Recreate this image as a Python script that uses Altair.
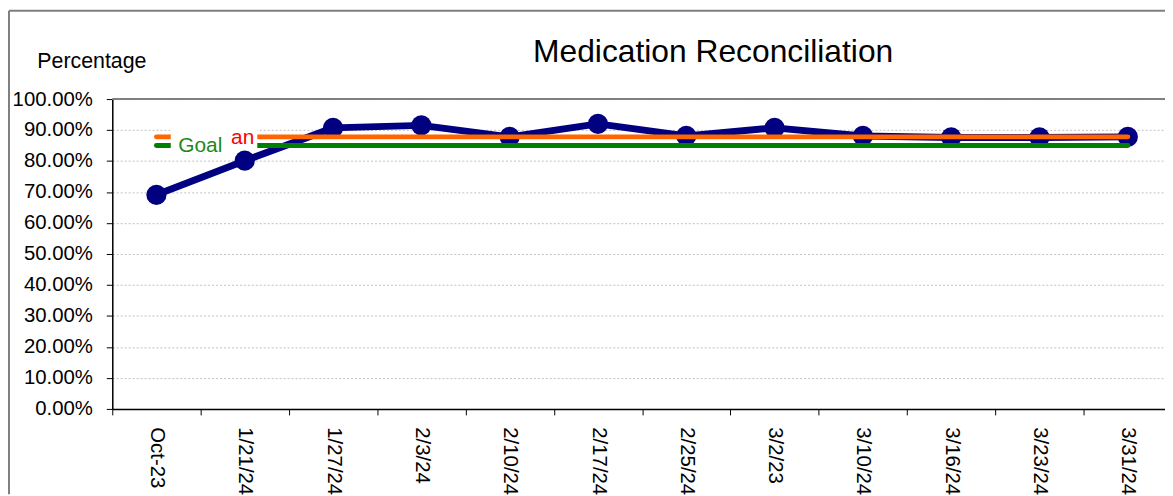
import altair as alt
import pandas as pd

weeks = ["Oct-23", "1/21/24", "1/27/24", "2/3/24", "2/10/24", "2/17/24",
         "2/25/24", "3/2/23", "3/10/24", "3/16/24", "3/23/24", "3/31/24"]
rates = [0.691, 0.801, 0.907, 0.915, 0.878, 0.920, 0.881, 0.907, 0.881, 0.876, 0.876, 0.878]
mean_value = 0.878
goal_value = 0.85
y_ticks = [0.0, 0.1, 0.2, 0.3, 0.4, 0.5, 0.6, 0.7, 0.8, 0.9, 1.0]
title_text = "Medication Reconciliation"
y_title = "Percentage"

FONT = "Liberation Sans"
W, H = 1067, 312
PAD_L, PAD_T, PAD_B, PAD_R = 105, 90, 86, -7

df = pd.DataFrame({
    "Week": weeks,
    "Rate": rates,
    "Mean": [mean_value] * len(weeks),
    "Goal": [goal_value] * len(weeks),
})

x_enc = alt.X(
    "Week:N", sort=weeks, title=None,
    scale=alt.Scale(paddingInner=0, paddingOuter=0),
    axis=alt.Axis(labelAngle=90, labelFontSize=20.5, labelFont=FONT, labelColor="black",
                  labelPadding=12, tickBand="extent", tickSize=6, tickColor="black",
                  domainColor="black", domainWidth=1.5, grid=False, labelOverlap=False),
)

y_scale = alt.Scale(domain=[0, 1], nice=False, zero=True)
y_axis = alt.Axis(values=y_ticks, format=".2%", labelFontSize=20.5, labelFont=FONT,
                  labelColor="black", labelPadding=14, tickSize=6, tickColor="black",
                  domainColor="black", domainWidth=1.5, grid=True, gridColor="#BFBFBF",
                  gridDash=[2, 2], gridWidth=1, title=y_title, titleAngle=0,
                  titleX=-76, titleY=-32, titleAlign="left", titleBaseline="alphabetic",
                  titleFontSize=21.5, titleFont=FONT, titleFontWeight="normal",
                  titleColor="black")


def y_of(field):
    return alt.Y(f"{field}:Q", scale=y_scale, axis=y_axis)


base = alt.Chart(df).encode(x=x_enc)

rate_line = base.mark_line(color="#000080", strokeWidth=7, strokeJoin="round").encode(y=y_of("Rate"))
rate_pts = base.mark_circle(color="#000080", size=415, opacity=1).encode(y=y_of("Rate"))
mean_line = base.mark_line(color="#FF6600", strokeWidth=5, strokeCap="round").encode(y=y_of("Mean"))
goal_line = base.mark_line(color="#008000", strokeWidth=5, strokeCap="round").encode(y=y_of("Goal"))

one = pd.DataFrame({"k": [0]})
box_a = alt.Chart(one).mark_rect(color="white").encode(
    x=alt.value(59), x2=alt.value(146), y=alt.value(30), y2=alt.value(50))
box_b = alt.Chart(one).mark_rect(color="white").encode(
    x=alt.value(59), x2=alt.value(119), y=alt.value(30), y2=alt.value(50))

mean_lab = alt.Chart(pd.DataFrame({"Week": [weeks[0]], "v": [mean_value], "t": ["Mean"]})).mark_text(
    align="left", baseline="alphabetic", dx=46, dy=7, fontSize=21, font=FONT, color="#FF0000"
).encode(x=x_enc, y=y_of("v"), text="t:N")
goal_lab = alt.Chart(pd.DataFrame({"Week": [weeks[0]], "v": [goal_value], "t": ["Goal"]})).mark_text(
    align="left", baseline="alphabetic", dx=22, dy=7, fontSize=21, font=FONT, color="#1A8A1A"
).encode(x=x_enc, y=y_of("v"), text="t:N")

top_rule = alt.Chart(pd.DataFrame({"v": [1.0]})).mark_rule(color="#808080", strokeWidth=2).encode(
    y=y_of("v"), x=alt.value(0), x2=alt.value(W))

title_mark = alt.Chart(pd.DataFrame({"t": [title_text]})).mark_text(
    align="center", baseline="alphabetic", fontSize=32, font=FONT, color="black"
).encode(text="t:N", x=alt.value(605), y=alt.value(-37))

border_left = alt.Chart(one).mark_rule(color="#7F7F7F", strokeWidth=2).encode(
    x=alt.value(-PAD_L + 1), y=alt.value(-PAD_T + 1), y2=alt.value(H + PAD_B))
border_top = alt.Chart(one).mark_rule(color="#7F7F7F", strokeWidth=2).encode(
    x=alt.value(-PAD_L + 1), x2=alt.value(W), y=alt.value(-PAD_T + 1))

chart = alt.layer(
    rate_line, rate_pts, mean_line, goal_line, box_a, mean_lab, box_b, goal_lab,
    top_rule, title_mark, border_left, border_top
).properties(
    width=W, height=H,
    autosize=alt.AutoSizeParams(type="none"),
    padding={"left": PAD_L, "top": PAD_T, "right": PAD_R, "bottom": PAD_B},
).configure_view(stroke=None).configure(background="white")

chart.save("out.html", embed_options={"renderer": "svg", "actions": False})
